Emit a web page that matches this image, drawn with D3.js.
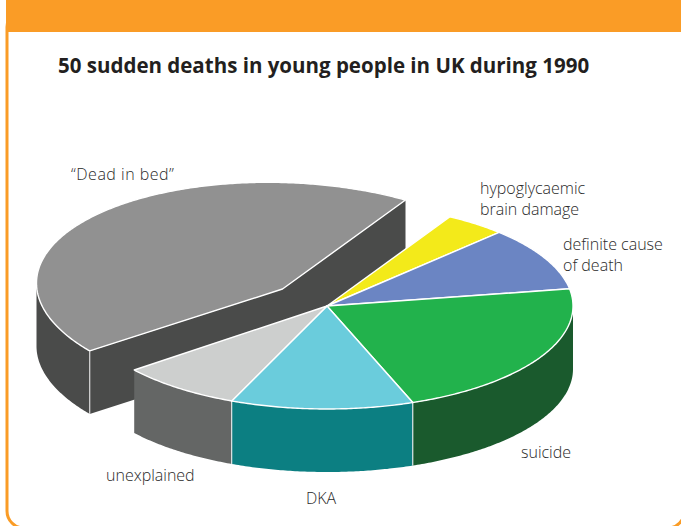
<!DOCTYPE html>
<html>
<head>
<meta charset="utf-8">
<script src="https://cdn.jsdelivr.net/npm/d3@7"></script>
<style>
  html, body { margin: 0; padding: 0; background: #fff; overflow: hidden; }
  svg { display: block; }
  text { font-family: "Open Sans", sans-serif; fill: #2a2a2a; font-size: 16px; font-weight: 300; }
</style>
</head>
<body>
<div id="chart"></div>
<script>
// Number of deaths per cause, clockwise starting from the yellow slice
const categories = ["hypoglycaemic brain damage", "definite cause of death", "suicide", "DKA", "unexplained", "Dead in bed"];
const deaths = [2, 5, 11, 6, 4, 22];
const topColors = ["#f3ea1a", "#6b85c3", "#22b24c", "#6accdc", "#cdcfce", "#919191"];
const wallColors = ["#b5ae14", "#47598a", "#1a5a2d", "#0c7f82", "#646665", "#4a4b4a"];

const width = 681, height = 526;
const cx = 327, cy = 306, rx = 246, ry = 103, depth = 63;
const explodeIndex = 5;

const svg = d3.select("#chart").append("svg")
    .attr("width", width)
    .attr("height", height);

// Panel with orange border and header band
svg.append("rect")
    .attr("x", 7).attr("y", 10)
    .attr("width", 677.6).attr("height", 518)
    .attr("rx", 17)
    .attr("fill", "#fff")
    .attr("stroke", "#fa9c26")
    .attr("stroke-width", 3);
svg.append("rect")
    .attr("x", 6).attr("y", 0)
    .attr("width", width - 6).attr("height", 32)
    .attr("fill", "#fa9c26");

svg.append("text")
    .attr("x", 58).attr("y", 72.5)
    .style("font-size", "20.5px")
    .style("font-weight", 700)
    .style("fill", "#231f20")
    .text("50 sudden deaths in young people in UK during 1990");

// Slice angles, zero at the top going clockwise
const slices = d3.pie().sort(null)
    .startAngle(Math.PI / 6)
    .endAngle(Math.PI / 6 + 2 * Math.PI)(deaths);

// Unit circle to the tilted ellipse on the page
const xScale = d3.scaleLinear().domain([-1, 1]).range([cx - rx, cx + rx]);
const yScale = d3.scaleLinear().domain([-1, 1]).range([cy - ry, cy + ry]);

const frontRim = {
    x: a => xScale(Math.sin(a)),
    y: a => yScale(-Math.cos(a)),
    apex: [cx, cy]
};

// The pulled out slice is drawn a bit taller and leans slightly to the left
const bigX = d3.scaleLinear().domain([-1, 1]).range([282.5 - rx, 282.5 + rx]);
const bigY = d3.scaleLinear().domain([-1, 1]).range([289.5 - 107, 289.5 + 107]);
const bigLean = 0.026 * rx;
const bigRim = {
    x: a => bigX(Math.sin(a)),
    y: a => bigY(-Math.cos(a)) + bigLean * Math.sin(a),
    apex: [282.5, 289]
};

function rimAngles(from, to) {
    const n = Math.ceil((to - from) / 0.01);
    return d3.range(n + 1).map(i => from + (to - from) * i / n);
}

function drawWall(rim, s, from, to) {
    const area = d3.area().x(rim.x).y0(rim.y).y1(a => rim.y(a) + depth);
    svg.append("path")
        .attr("d", area(rimAngles(from, to)))
        .attr("fill", wallColors[s.index]);
}

function drawTop(rim, s) {
    const pts = rimAngles(s.startAngle, s.endAngle).map(a => [rim.x(a), rim.y(a)]);
    svg.append("path")
        .attr("d", d3.line()([rim.apex, ...pts]) + "Z")
        .attr("fill", topColors[s.index])
        .attr("stroke", "#fff")
        .attr("stroke-width", 1.4)
        .attr("stroke-linejoin", "round");
}

function drawEdge(rim, a, color) {
    svg.append("line")
        .attr("x1", rim.x(a)).attr("y1", rim.y(a))
        .attr("x2", rim.x(a)).attr("y2", rim.y(a) + depth)
        .attr("stroke", color).attr("stroke-width", 1.2);
}

// The pulled out slice sits behind everything else
const big = slices[explodeIndex];
const cornerA = [bigRim.x(big.startAngle), bigRim.y(big.startAngle)];
const cornerB = [bigRim.x(big.endAngle), bigRim.y(big.endAngle)];
const lowered = p => [p[0], p[1] + depth];
// both cut faces as one shape, so no seam shows at the apex
svg.append("path")
    .attr("d", d3.line()([cornerA, bigRim.apex, cornerB, lowered(cornerB), lowered(bigRim.apex), lowered(cornerA)]) + "Z")
    .attr("fill", wallColors[explodeIndex]);
// only the part of the rim facing us gets a wall
drawWall(bigRim, big, big.startAngle, 3 * Math.PI / 2);
drawTop(bigRim, big);
drawEdge(bigRim, big.startAngle, "#d8d8d8");

// Front walls, then the tops of the remaining slices
const rest = slices.filter(s => s.index !== explodeIndex);
rest.forEach(s => {
    const from = Math.max(s.startAngle, Math.PI / 2);
    if (from < s.endAngle) drawWall(frontRim, s, from, s.endAngle);
});
rest.filter(s => s.index === 2 || s.index === 3).forEach(s => drawEdge(frontRim, s.endAngle, "#dfe6e6"));
rest.forEach(s => drawTop(frontRim, s));

// Labels
const labels = [
    { lines: ["hypoglycaemic", "brain damage"], x: 480, y: 194 },
    { lines: ["definite cause", "of death"], x: 563, y: 250 },
    { lines: ["suicide"], x: 521, y: 458 },
    { lines: ["DKA"], x: 306, y: 504 },
    { lines: ["unexplained"], x: 106, y: 481 },
    { lines: ["\u201cDead in bed\u201d"], x: 71, y: 180, spacing: 0.5 }
];
labels.forEach(l => {
    l.lines.forEach((t, i) => {
        svg.append("text")
            .attr("x", l.x).attr("y", l.y + i * 21)
            .style("letter-spacing", l.spacing ? l.spacing + "px" : null)
            .text(t);
    });
});
</script>
</body>
</html>
